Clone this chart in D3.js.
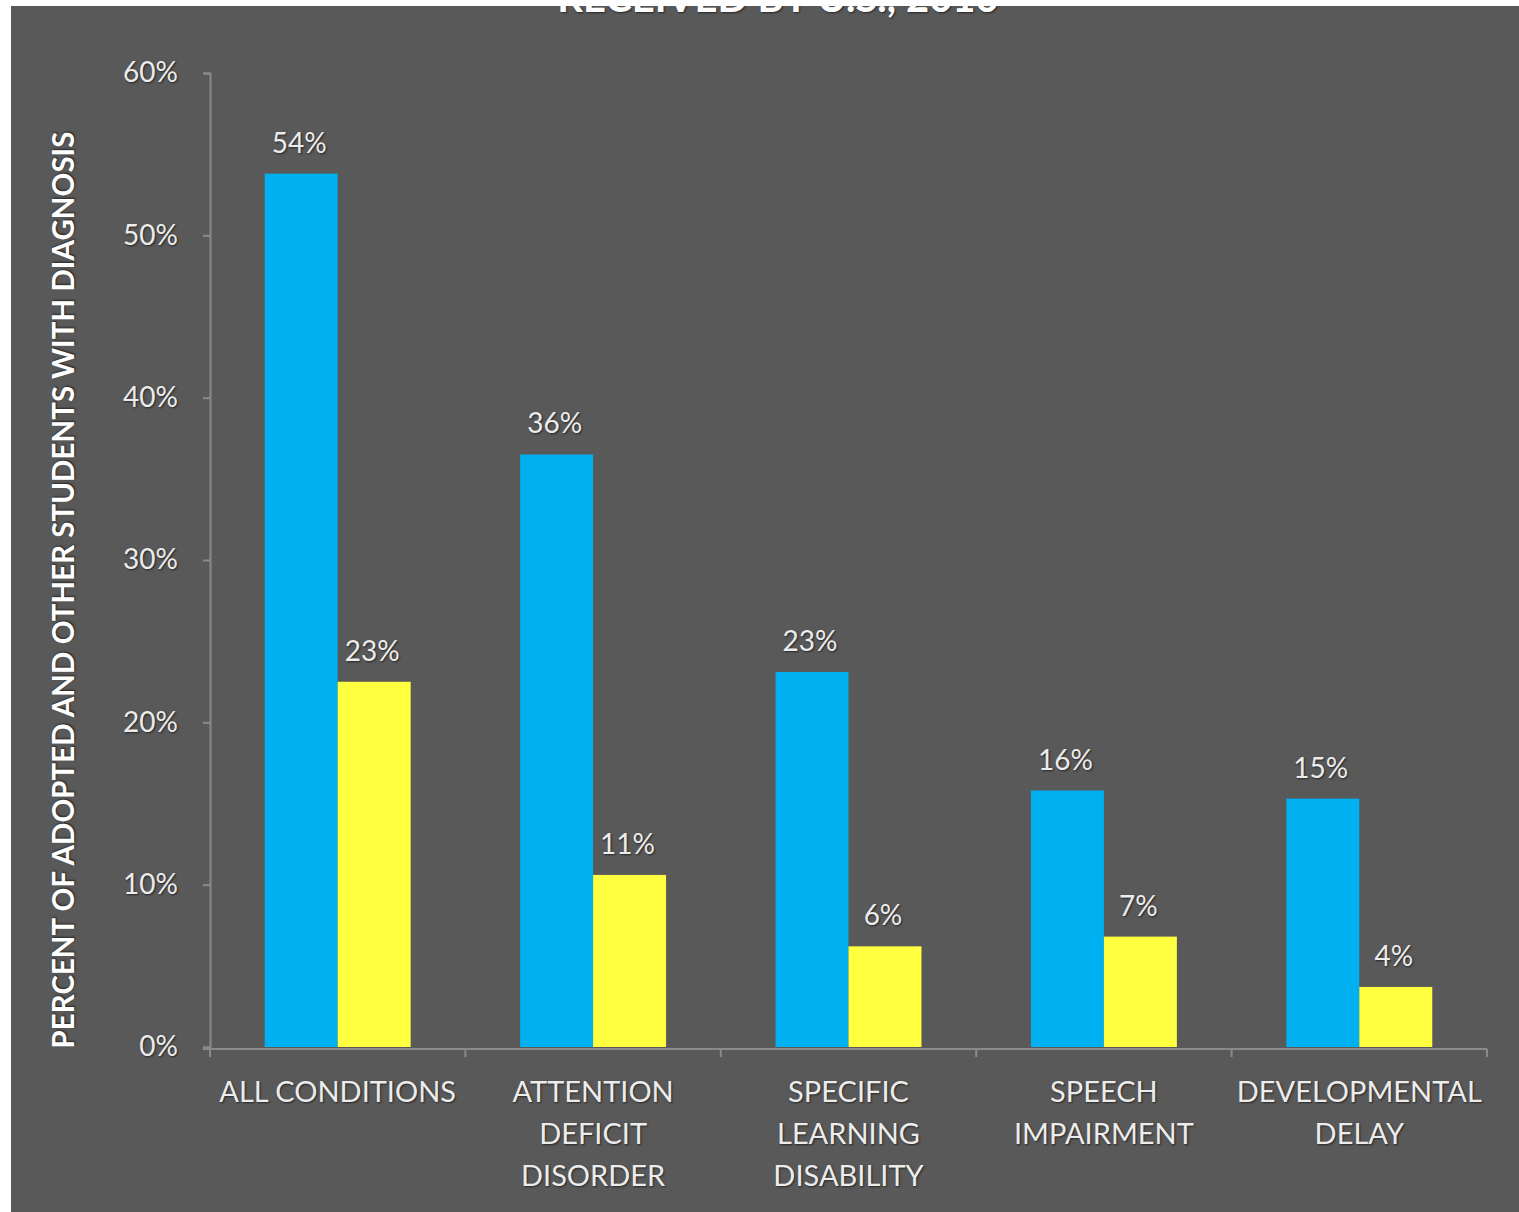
<!DOCTYPE html>
<html>
<head>
<meta charset="utf-8">
<script src="https://cdn.jsdelivr.net/npm/d3@7"></script>
<style>
  body { margin: 0; background: #fff; }
  text { font-family: Lato, "Open Sans", sans-serif; fill: #ececec; }
  .shadow { text-shadow: 1px 1px 2px #262626; }
</style>
</head>
<body>
<svg width="1519" height="1212"></svg>
<script>
var svg = d3.select('svg');

// chart data
var categories = [
  ['ALL CONDITIONS'],
  ['ATTENTION', 'DEFICIT', 'DISORDER'],
  ['SPECIFIC', 'LEARNING', 'DISABILITY'],
  ['SPEECH', 'IMPAIRMENT'],
  ['DEVELOPMENTAL', 'DELAY']
];
var series = ['adopted', 'other'];
var adopted = [0.538, 0.365, 0.231, 0.158, 0.153];
var other = [0.225, 0.106, 0.062, 0.068, 0.037];
var adoptedLabels = ['54%', '36%', '23%', '16%', '15%'];
var otherLabels = ['23%', '11%', '6%', '7%', '4%'];
var yTicks = [0, 0.1, 0.2, 0.3, 0.4, 0.5, 0.6];
var colors = ['#00b0f0', '#ffff40'];

var plotLeft = 210, plotRight = 1487, plotTop = 73, plotBottom = 1047;
var axisColor = '#8a8a8a';

// background
svg.append('rect')
  .attr('x', 11).attr('y', 6)
  .attr('width', 1519 - 11).attr('height', 1212 - 6)
  .attr('fill', '#595959');

// title (cut off at the top in the original)
svg.append('text')
  .attr('class', 'shadow')
  .attr('x', 778).attr('y', 12)
  .attr('text-anchor', 'middle')
  .attr('font-size', '40px')
  .attr('font-weight', 'bold')
  .style('fill', '#fff')
  .text('RECEIVED BY U.S., 2010');

// white margins over whatever falls out of the frame
svg.append('rect').attr('x', 0).attr('y', 0).attr('width', 1519).attr('height', 6).attr('fill', '#fff');
svg.append('rect').attr('x', 0).attr('y', 0).attr('width', 11).attr('height', 1212).attr('fill', '#fff');

var keys = d3.range(categories.length);

var x0 = d3.scaleBand()
  .domain(keys)
  .range([plotLeft, plotRight])
  .padding(0);

var x1 = d3.scaleBand()
  .domain(series)
  .range([0, x0.bandwidth()])
  .paddingInner(0)
  .paddingOuter(0.75);

var y = d3.scaleLinear()
  .domain([0, 0.6])
  .range([plotBottom, plotTop]);

// y axis
var yAxis = svg.append('g')
  .attr('transform', 'translate(' + plotLeft + ',0)')
  .call(d3.axisLeft(y).tickValues(yTicks).tickFormat(d3.format('.0%')).tickSize(7).tickPadding(25));

yAxis.select('.domain').attr('stroke', axisColor).attr('stroke-width', 2);
yAxis.selectAll('.tick line').attr('stroke', axisColor).attr('stroke-width', 2);
yAxis.selectAll('.tick text')
  .attr('class', 'shadow')
  .attr('font-size', '28px')
  .attr('font-family', 'Lato, sans-serif')
  .style('fill', '#ececec');

// y axis title
svg.append('text')
  .attr('class', 'shadow')
  .attr('transform', 'translate(74,590) rotate(-90)')
  .attr('text-anchor', 'middle')
  .attr('font-size', '29.5px')
  .attr('font-weight', 'bold')
  .style('fill', '#fff')
  .text('PERCENT OF ADOPTED AND OTHER STUDENTS WITH DIAGNOSIS');

// bars
var groups = svg.selectAll('.group')
  .data(keys)
  .enter()
  .append('g')
  .attr('class', 'group')
  .attr('transform', function(d) {
    return 'translate(' + x0(d) + ',0)';
  });

var barData = function(i) {
  return [
    {key: 'adopted', value: adopted[i], label: adoptedLabels[i], color: colors[0]},
    {key: 'other', value: other[i], label: otherLabels[i], color: colors[1]}
  ];
};

groups.selectAll('rect')
  .data(function(d) { return barData(d); })
  .enter()
  .append('rect')
  .attr('x', function(d) { return x1(d.key); })
  .attr('y', function(d) { return y(d.value); })
  .attr('width', x1.bandwidth())
  .attr('height', function(d) { return plotBottom - y(d.value); })
  .attr('fill', function(d) { return d.color; });

groups.selectAll('.value')
  .data(function(d) { return barData(d); })
  .enter()
  .append('text')
  .attr('class', 'value shadow')
  .attr('x', function(d) { return x1(d.key) + x1.bandwidth() / 2 - 2; })
  .attr('y', function(d) { return y(d.value) - 21; })
  .attr('text-anchor', 'middle')
  .attr('font-size', '28px')
  .text(function(d) { return d.label; });

// x axis
svg.append('line')
  .attr('x1', plotLeft - 7).attr('x2', plotRight)
  .attr('y1', plotBottom + 2).attr('y2', plotBottom + 2)
  .attr('stroke', axisColor).attr('stroke-width', 2);

svg.selectAll('.xtick')
  .data(d3.range(categories.length + 1))
  .enter()
  .append('line')
  .attr('class', 'xtick')
  .attr('x1', function(d) { return plotLeft + d * x0.step(); })
  .attr('x2', function(d) { return plotLeft + d * x0.step(); })
  .attr('y1', plotBottom + 2).attr('y2', plotBottom + 10)
  .attr('stroke', axisColor).attr('stroke-width', 2);

var xLabels = svg.selectAll('.xlabel')
  .data(keys)
  .enter()
  .append('text')
  .attr('class', 'xlabel shadow')
  .attr('x', function(d) { return x0(d) + x0.bandwidth() / 2; })
  .attr('y', 1102)
  .attr('text-anchor', 'middle')
  .attr('font-size', '29px');

xLabels.selectAll('tspan')
  .data(function(d) { return categories[d]; })
  .enter()
  .append('tspan')
  .attr('x', function() { return d3.select(this.parentNode).attr('x'); })
  .attr('dy', function(d, i) { return i === 0 ? 0 : 42; })
  .text(function(d) { return d; });
</script>
</body>
</html>
